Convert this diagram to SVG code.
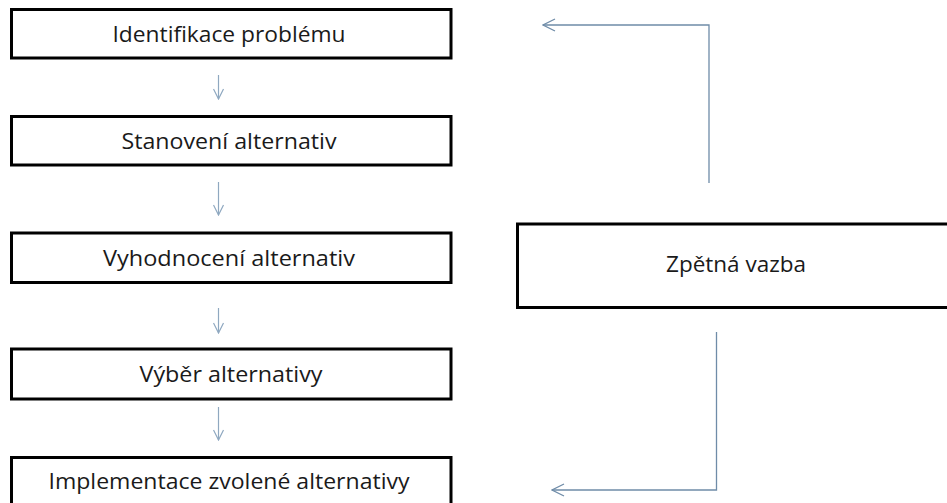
<svg xmlns="http://www.w3.org/2000/svg" width="947" height="503" viewBox="0 0 947 503">
  <defs>
    <style>
      .box { fill: #ffffff; stroke: #000000; stroke-width: 3; }
      .label { font-family: "Open Sans", "Noto Sans", "Liberation Sans", sans-serif; font-size: 22.5px; fill: #1a1a1a; text-anchor: middle; }
      .step { fill: none; stroke: #8fa8c0; stroke-width: 1.2; }
      .loop { fill: none; stroke: #6f8ca8; stroke-width: 1.3; }
    </style>
    <marker id="chevron-step" viewBox="0 0 12 12" refX="11" refY="6" markerWidth="12" markerHeight="12" markerUnits="userSpaceOnUse" orient="auto">
      <path d="M1,1 L11,6 L1,11" fill="none" stroke="#8fa8c0" stroke-width="1.2"/>
    </marker>
    <marker id="chevron-loop" viewBox="0 0 14 14" refX="13" refY="7" markerWidth="14" markerHeight="14" markerUnits="userSpaceOnUse" orient="auto">
      <path d="M1,1 L13,7 L1,13" fill="none" stroke="#6f8ca8" stroke-width="1.3"/>
    </marker>
  </defs>

  <rect width="947" height="503" fill="#ffffff"/>

  <g id="identifikace">
    <rect class="box" x="11.5" y="9.5" width="439.5" height="48.5"/>
    <text class="label" x="229" y="42" textLength="233" lengthAdjust="spacingAndGlyphs">Identifikace problému</text>
  </g>

  <g id="stanoveni">
    <rect class="box" x="11.5" y="116.5" width="439.5" height="48.5"/>
    <text class="label" x="229" y="149" textLength="215" lengthAdjust="spacingAndGlyphs">Stanovení alternativ</text>
  </g>

  <g id="vyhodnoceni">
    <rect class="box" x="11.5" y="233" width="439.5" height="49.5"/>
    <text class="label" x="229" y="266" textLength="252" lengthAdjust="spacingAndGlyphs">Vyhodnocení alternativ</text>
  </g>

  <g id="vyber">
    <rect class="box" x="11.5" y="349" width="439.5" height="50"/>
    <text class="label" x="231" y="382" textLength="183" lengthAdjust="spacingAndGlyphs">Výběr alternativy</text>
  </g>

  <g id="implementace">
    <rect class="box" x="11.5" y="457.5" width="439.5" height="49"/>
    <text class="label" x="229" y="489" textLength="361" lengthAdjust="spacingAndGlyphs">Implementace zvolené alternativy</text>
  </g>

  <g id="zpetna-vazba">
    <rect class="box" x="517.5" y="224" width="437" height="83.5"/>
    <text class="label" x="736" y="272" textLength="140" lengthAdjust="spacingAndGlyphs">Zpětná vazba</text>
  </g>

  <g id="connectors">
    <line class="step" x1="218.5" y1="75" x2="218.5" y2="99" marker-end="url(#chevron-step)"/>
    <line class="step" x1="218.5" y1="182" x2="218.5" y2="215" marker-end="url(#chevron-step)"/>
    <line class="step" x1="218.5" y1="308" x2="218.5" y2="333" marker-end="url(#chevron-step)"/>
    <line class="step" x1="218.5" y1="407" x2="218.5" y2="440" marker-end="url(#chevron-step)"/>
    <polyline class="loop" points="709,183 709,25 543,25" marker-end="url(#chevron-loop)"/>
    <polyline class="loop" points="716.5,332 716.5,490 552,490" marker-end="url(#chevron-loop)"/>
  </g>
</svg>
